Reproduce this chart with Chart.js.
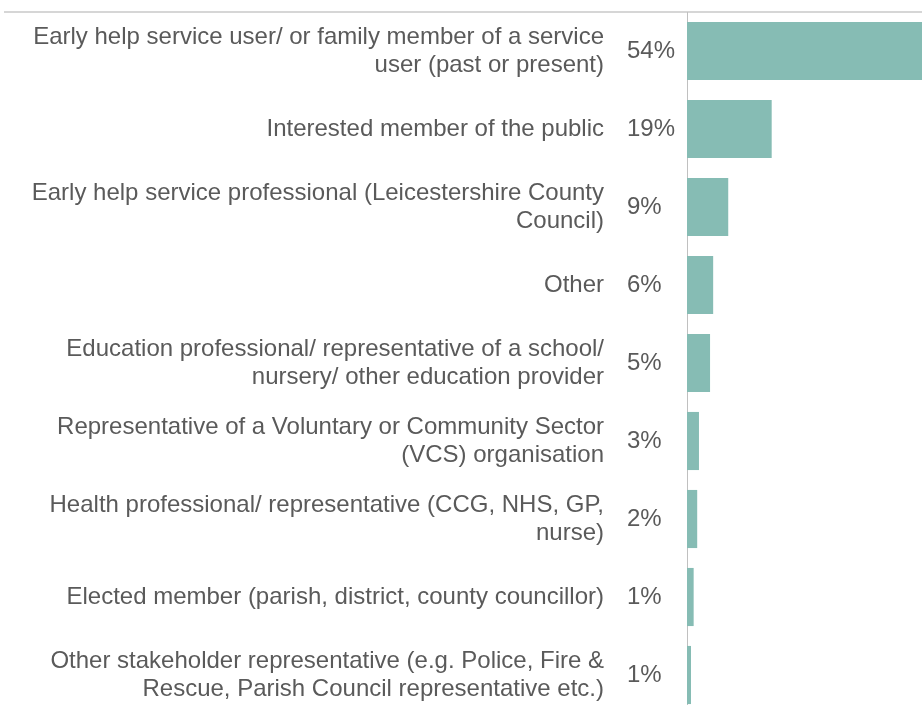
<!DOCTYPE html>
<html>
<head>
<meta charset="utf-8">
<script src="https://cdn.jsdelivr.net/npm/chart.js@4"></script>
<style>
  html, body { margin: 0; padding: 0; background: #ffffff; overflow: hidden; }
  #wrap { position: relative; width: 922px; height: 714px; }
</style>
</head>
<body>
<div id="wrap"><canvas id="c"></canvas></div>
<script>
// Categories (each entry is a list of label lines)
const categories = [
  ["Early help service user/ or family member of a service", "user (past or present)"],
  ["Interested member of the public"],
  ["Early help service professional (Leicestershire County", "Council)"],
  ["Other"],
  ["Education professional/ representative of a school/", "nursery/ other education provider"],
  ["Representative of a Voluntary or Community Sector", "(VCS) organisation"],
  ["Health professional/ representative (CCG, NHS, GP,", "nurse)"],
  ["Elected member (parish, district, county councillor)"],
  ["Other stakeholder representative (e.g. Police, Fire &", "Rescue, Parish Council representative etc.)"]
];
// Share of respondents (%)
const shares = [54.0, 19.1, 9.3, 5.9, 5.2, 2.7, 2.3, 1.5, 0.9];
// Labels shown beside the axis
const shareLabels = ["54%", "19%", "9%", "6%", "5%", "3%", "2%", "1%", "1%"];

const TEXT = '#5a5a5a';
const FONT = '"Liberation Sans", Arial, sans-serif';

const topRule = {
  id: 'topRule',
  beforeDraw(chart) {
    const ctx = chart.ctx;
    ctx.save();
    ctx.fillStyle = '#d6d6d6';
    ctx.fillRect(4, 11, 918, 2);
    ctx.restore();
  }
};

const pctLabels = {
  id: 'pctLabels',
  afterDatasetsDraw(chart) {
    const ctx = chart.ctx;
    const y = chart.scales.y;
    ctx.save();
    ctx.fillStyle = TEXT;
    ctx.font = '24px ' + FONT;
    ctx.textAlign = 'left';
    ctx.textBaseline = 'middle';
    shareLabels.forEach((t, i) => {
      ctx.fillText(t, 627, y.getPixelForValue(i));
    });
    ctx.restore();
  }
};

new Chart(document.getElementById('c'), {
  type: 'bar',
  data: {
    labels: categories,
    datasets: [{
      data: shares,
      backgroundColor: '#86bcb4',
      borderWidth: 0,
      categoryPercentage: 1,
      barPercentage: 0.745
    }]
  },
  options: {
    indexAxis: 'y',
    responsive: true,
    maintainAspectRatio: false,
    animation: false,
    layout: { padding: { top: 12, left: 0, right: 0, bottom: 0 } },
    plugins: {
      legend: { display: false },
      tooltip: { enabled: false },
      title: { display: false }
    },
    scales: {
      x: {
        display: false,
        min: 0,
        max: 53
      },
      y: {
        afterFit(scale) {
          scale.width = 687;
          scale.paddingTop = 0;
          scale.paddingBottom = 0;
        },
        grid: { display: false, drawTicks: false },
        border: { display: true, color: '#c0c0c0', width: 1, dash: [1, 2] },
        ticks: {
          padding: 83,
          color: TEXT,
          font: { family: FONT, size: 24, lineHeight: 1.17 },
          autoSkip: false
        }
      }
    }
  },
  plugins: [topRule, pctLabels]
});
</script>
</body>
</html>
